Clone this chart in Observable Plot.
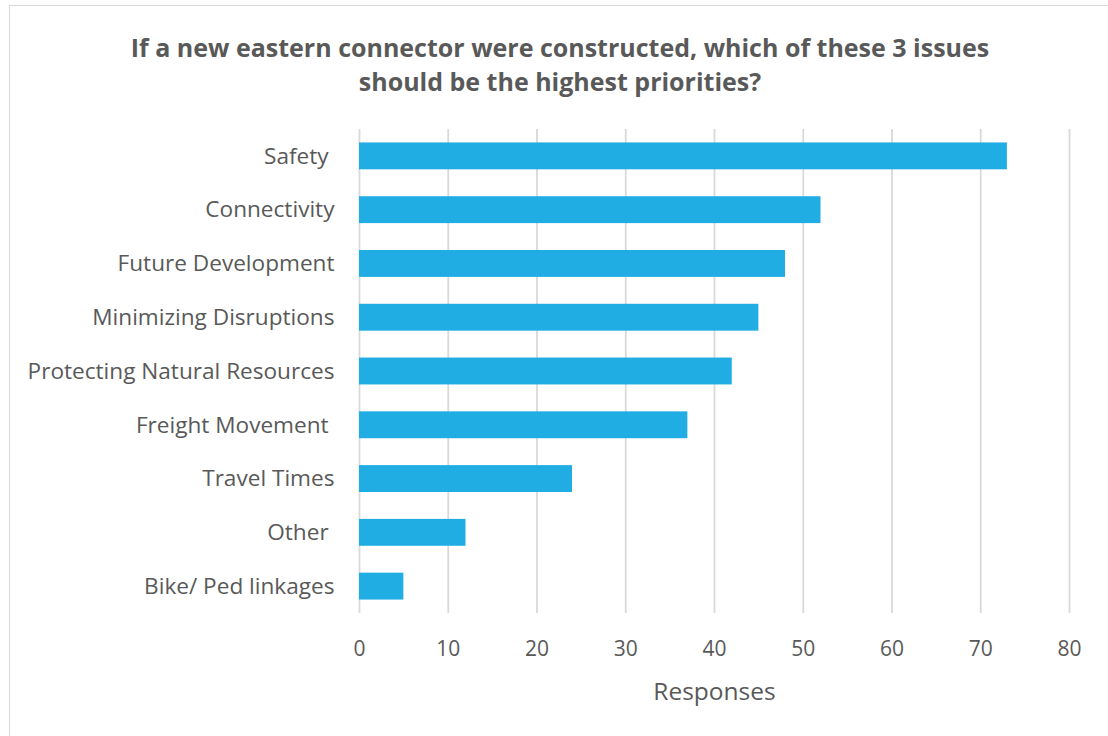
<!DOCTYPE html>
<html>
<head>
<meta charset="utf-8">
<script src="https://cdn.jsdelivr.net/npm/d3@7"></script>
<script src="https://cdn.jsdelivr.net/npm/@observablehq/plot@0.6"></script>
<style>
  html, body { margin: 0; padding: 0; background: #fff; }
  body { width: 1108px; height: 736px; position: relative; overflow: hidden; font-family: "Open Sans", sans-serif; }
  #frame { position: absolute; left: 9px; top: 5px; width: 1200px; height: 800px; border-left: 1px solid #d9d9d9; border-top: 1px solid #d9d9d9; }
  #title { position: absolute; left: 0; width: 1120px; top: 30px; text-align: center; font-weight: bold; font-size: 25px; line-height: 34px; color: #595959; }
  #chart { position: absolute; left: 0; top: 0; }
</style>
</head>
<body>
<div id="frame"></div>
<div id="title">If a new eastern connector were constructed, which of these 3 issues<br>should be the highest priorities?</div>
<div id="chart"></div>
<script>
const categories = ["Safety\u00a0", "Connectivity", "Future Development", "Minimizing Disruptions", "Protecting Natural Resources", "Freight Movement\u00a0", "Travel Times", "Other\u00a0", "Bike/ Ped linkages"];
const responses = [73, 52, 48, 45, 42, 37, 24, 12, 5];
const xTicks = [0, 10, 20, 30, 40, 50, 60, 70, 80];
const xLabel = "Responses";

const data = categories.map((c, i) => ({category: c, value: responses[i]}));

const plot = Plot.plot({
  width: 1108,
  height: 736,
  marginLeft: 359,
  marginRight: 39,
  marginTop: 129,
  marginBottom: 123,
  style: {fontFamily: "Open Sans, sans-serif", fontSize: "21px", color: "#595959", background: "transparent"},
  x: {domain: [0, 80], ticks: xTicks, label: xLabel, labelAnchor: "center", labelArrow: "none"},
  y: {domain: categories, paddingInner: 0.5, paddingOuter: 0.25, round: false, label: null},
  marks: [
    Plot.gridX(xTicks, {stroke: "#d9d9d9", strokeOpacity: 1, strokeWidth: 1.8}),
    Plot.barX(data, {x: "value", y: "category", fill: "#1fade4"}),
    Plot.axisX({ticks: xTicks, tickSize: 0, tickPadding: 28, fontSize: 21, label: null}),
    Plot.axisX({ticks: [], tickSize: 0, fontSize: 24.5, label: xLabel, labelAnchor: "center", labelArrow: "none", labelOffset: 86}),
    Plot.axisY({tickSize: 0, tickPadding: 25, fontSize: 22.6, label: null})
  ]
});
document.getElementById("chart").appendChild(plot);
</script>
</body>
</html>
